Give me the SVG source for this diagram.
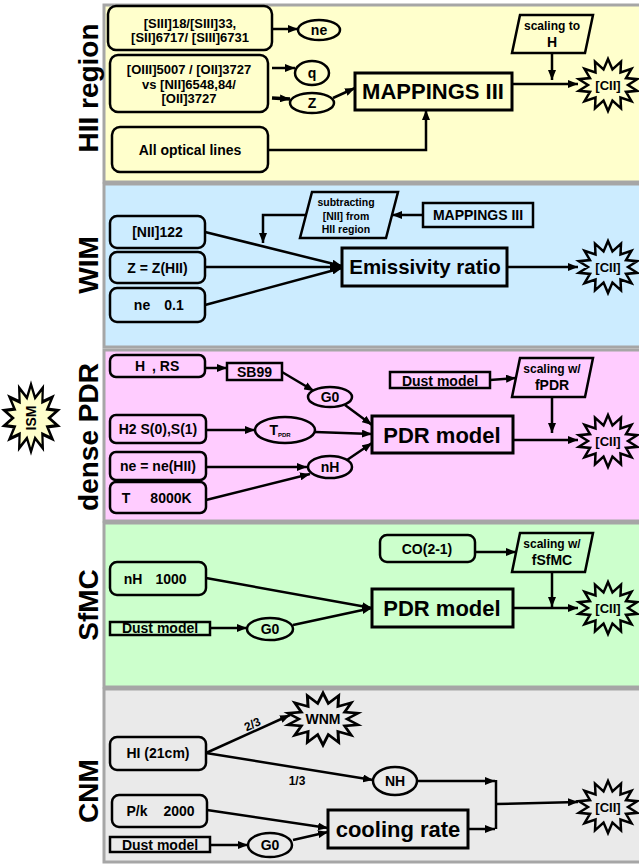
<svg xmlns="http://www.w3.org/2000/svg" xmlns:xlink="http://www.w3.org/1999/xlink" width="639" height="865" viewBox="0 0 639 865">
<style>
text{font-family:"Liberation Sans",Arial,sans-serif;font-weight:bold;fill:#000}
.panel{stroke:#A6A6A6;stroke-width:3}
.nd{stroke:#000;stroke-width:2.5}
.big{stroke:#000;stroke-width:3}
.c{stroke:#000;stroke-width:2.5;fill:none;marker-end:url(#ah)}
.cn{stroke:#000;stroke-width:2.5;fill:none}
.star{stroke:#000;stroke-width:2.5;fill:none}
.lab{font-size:28px;text-anchor:middle}
.t13{font-size:13px;text-anchor:middle}
.t14{font-size:14px;text-anchor:middle}
.t11{font-size:10.5px;text-anchor:middle}
.t12{font-size:12px;text-anchor:middle}
.t22{font-size:22px;text-anchor:middle}
</style>
<defs>
<marker id="ah" markerUnits="userSpaceOnUse" markerWidth="10" markerHeight="8" refX="10" refY="4" orient="auto">
<path d="M0,0 L10,4 L0,8 z" fill="#000"/>
</marker>
<polygon id="starshape" points="0,-26 4.45,-15.6 13,-23.4 12.5,-12.5 23.5,-16.2 18,-6.9 29.2,-5.8 20,0 29.2,5.8 18,6.9 23.5,16.2 12.5,12.5 13,23.4 4.45,15.6 0,26 -4.45,15.6 -13,23.4 -12.5,12.5 -23.5,16.2 -18,6.9 -29.2,5.8 -20,0 -29.2,-5.8 -18,-6.9 -23.5,-16.2 -12.5,-12.5 -13,-23.4 -4.45,-15.6"/>
</defs>
<rect width="639" height="865" fill="#fff"/>
<g id="panels">
<rect class="panel" x="104" y="5" width="540" height="177" fill="#FFFFCC"/>
<rect class="panel" x="104" y="184" width="540" height="163" fill="#CCECFF"/>
<rect class="panel" x="104" y="350" width="540" height="171" fill="#FFCCFF"/>
<rect class="panel" x="104" y="523" width="540" height="164" fill="#CCFFCC"/>
<rect class="panel" x="104" y="689" width="540" height="173" fill="#EAEAEA"/>
</g>
<g id="labels">
<text class="lab" transform="translate(98,88) rotate(-90)">HII region</text>
<text class="lab" transform="translate(98,265) rotate(-90)">WIM</text>
<text class="lab" transform="translate(98,437) rotate(-90)">dense PDR</text>
<text class="lab" transform="translate(98,605) rotate(-90)">SfMC</text>
<text class="lab" transform="translate(98,791) rotate(-90)">CNM</text>
</g>
<g id="ism">
<use xlink:href="#starshape" transform="translate(31,418) scale(0.91,1.29)" fill="#FFFFCC" stroke="#000" stroke-width="2.5" vector-effect="non-scaling-stroke"/>
<text class="t14" transform="translate(36,418) rotate(-90)">ISM</text>
</g>
<g id="connectors">
<path class="c" d="M272,29 L298,29"/>
<path class="c" d="M272,68 L295,68"/>
<path class="c" d="M272,98 L290,99" style="stroke-width:3.5"/>
<path class="c" d="M333,98 L355,88"/>
<path class="c" d="M268,150 L426,150 L426,110"/>
<path class="c" d="M552,53 L552,80"/>
<path class="c" d="M512,84 L578,84"/>
<path class="c" d="M423,215 L392,215"/>
<path class="c" d="M306,215 L263,215 L263,243"/>
<path class="c" d="M205,232 L342,266"/>
<path class="c" d="M205,267 L340,267"/>
<path class="c" d="M205,305 L342,268"/>
<path class="c" d="M507,267 L578,267"/>
<path class="c" d="M205,368 L227,368"/>
<path class="c" d="M282,372 L314,391"/>
<path class="c" d="M206,430 L255,430"/>
<path class="c" d="M206,467 L307,467"/>
<path class="c" d="M206,500 L310,474"/>
<path class="c" d="M345,405 L372,425"/>
<path class="c" d="M315,432 L372,434"/>
<path class="c" d="M347,460 L372,443"/>
<path class="c" d="M490,380 L516,378"/>
<path class="c" d="M552,397 L552,433"/>
<path class="c" d="M513,440 L578,440"/>
<path class="c" d="M206,578 L372,608"/>
<path class="c" d="M293,625 L372,608"/>
<path class="c" d="M210,628 L247,628"/>
<path class="c" d="M475,552 L516,552"/>
<path class="c" d="M552,572 L552,607"/>
<path class="c" d="M513,608 L578,608"/>
<path class="c" d="M206,753 L290,715"/>
<path class="c" d="M206,753 L373,780"/>
<path class="c" d="M207,810 L328,828"/>
<path class="c" d="M293,840 L328,832"/>
<path class="c" d="M210,845 L248,845"/>
<path class="c" d="M417,781 L495,781"/>
<path class="c" d="M468,829 L495,829"/>
<path class="cn" d="M496,780 L496,829"/>
<path class="c" d="M496,804 L578,802"/>
<text class="t12" transform="translate(254,728) rotate(-24)">2/3</text>
<text class="t12" x="297" y="785">1/3</text>
</g>
<g id="n-hii-ratio1"><rect class="nd" x="108" y="6" width="164" height="44" rx="8" fill="#FFFFCC"/>
<text class="t13" x="190" y="27.5">[SIII]18/[SIII]33,</text><text class="t13" x="190" y="42">[SII]6717/ [SIII]6731</text></g>
<g id="n-ne"><ellipse class="nd" cx="319" cy="30" rx="21" ry="10" fill="#FFFFCC"/><text class="t14" x="319" y="35">ne</text></g>
<g id="n-hii-ratio2"><rect class="nd" x="110" y="55" width="158" height="57" rx="8" fill="#FFFFCC"/>
<text class="t13" x="189" y="74">[OIII]5007 / [OII]3727</text><text class="t13" x="189" y="88.5">vs [NII]6548,84/</text><text class="t13" x="189" y="103">[OII]3727</text></g>
<g id="n-q"><ellipse class="nd" cx="312" cy="73" rx="17" ry="12" fill="#FFFFCC"/><text class="t14" x="312" y="78">q</text></g>
<g id="n-z"><ellipse class="nd" cx="312" cy="103" rx="22" ry="10" fill="#FFFFCC"/><text class="t14" x="312" y="108">Z</text></g>
<g id="n-optical"><rect class="nd" x="112" y="127" width="156" height="45" rx="8" fill="#FFFFCC"/><text class="t14" x="190" y="155">All optical lines</text></g>
<g id="n-mappings1"><rect class="big" x="355" y="73" width="157" height="37" fill="#FFFFCC"/><text class="t22" x="433" y="99">MAPPINGS III</text></g>
<g id="n-scaleH"><polygon class="nd" points="520,15 593,15 585,53 512,53" fill="#FFFFCC"/><text class="t12" x="552" y="30">scaling to</text><text class="t14" x="552" y="47">H</text></g>
<g id="n-cii1"><use xlink:href="#starshape" class="star" x="608" y="85"/><text class="t13" x="608" y="90">[CII]</text></g>

<g id="n-nii122"><rect class="nd" x="110" y="216" width="95" height="32" rx="7" fill="#CCECFF"/><text class="t14" x="157.5" y="237">[NII]122</text></g>
<g id="n-zwim"><rect class="nd" x="110" y="252" width="95" height="31" rx="7" fill="#CCECFF"/><text class="t14" x="157.5" y="273">Z = Z(HII)</text></g>
<g id="n-newim"><rect class="nd" x="110" y="288" width="95" height="34" rx="7" fill="#CCECFF"/><text class="t14" x="142" y="310">ne</text><text class="t14" x="174" y="310">0.1</text></g>
<g id="n-subtract"><polygon class="nd" points="312,192 398,192 386,238 300,238" fill="#CCECFF"/>
<text class="t11" x="346" y="206">subtracting</text><text class="t11" x="346" y="220">[NII] from</text><text class="t11" x="346" y="233">HII region</text></g>
<g id="n-mappings2"><rect class="nd" x="423" y="203" width="110" height="24" fill="#CCECFF"/><text class="t14" x="478" y="220">MAPPINGS III</text></g>
<g id="n-emis"><rect class="big" x="342" y="248" width="165" height="38" fill="#CCECFF"/><text x="425" y="274" style="font-size:20.5px;text-anchor:middle">Emissivity ratio</text></g>
<g id="n-cii2"><use xlink:href="#starshape" class="star" x="608" y="267"/><text class="t13" x="608" y="272">[CII]</text></g>

<g id="n-halpha"><rect class="nd" x="110" y="355" width="95" height="22" rx="6" fill="#FFCCFF"/><text class="t14" x="135" y="371" style="text-anchor:start">H</text><text class="t14" x="152" y="371" style="text-anchor:start">, RS</text></g>
<g id="n-sb99"><rect class="nd" x="227" y="363" width="55" height="17" fill="#FFCCFF"/><text class="t14" x="254.5" y="377">SB99</text></g>
<g id="n-g0pdr"><ellipse class="nd" cx="330" cy="397" rx="22" ry="10" fill="#FFCCFF"/><text class="t14" x="330" y="402">G0</text></g>
<g id="n-h2"><rect class="nd" x="110" y="415" width="96" height="28" rx="6" fill="#FFCCFF"/><text class="t14" x="158" y="434">H2 S(0),S(1)</text></g>
<g id="n-tpdr"><ellipse class="nd" cx="285" cy="430" rx="30" ry="13" fill="#FFCCFF"/><text x="280" y="435" style="font-size:14px;text-anchor:middle">T<tspan style="font-size:6px" dy="2">PDR</tspan></text></g>
<g id="n-nepdr"><rect class="nd" x="110" y="452" width="96" height="28" rx="6" fill="#FFCCFF"/><text class="t14" x="158" y="471">ne = ne(HII)</text></g>
<g id="n-t8000"><rect class="nd" x="110" y="482" width="96" height="31" rx="6" fill="#FFCCFF"/><text class="t14" x="126" y="503">T</text><text class="t14" x="171" y="503">8000K</text></g>
<g id="n-nhpdr"><ellipse class="nd" cx="330" cy="467" rx="22" ry="11" fill="#FFCCFF"/><text class="t14" x="330" y="472">nH</text></g>
<g id="n-pdrmodel1"><rect class="big" x="372" y="416" width="141" height="37" fill="#FFCCFF"/><text class="t22" x="442" y="443">PDR model</text></g>
<g id="n-dust1"><rect class="nd" x="390" y="372" width="100" height="16" fill="#FFCCFF"/><text class="t14" x="440" y="386">Dust model</text></g>
<g id="n-scalefpdr"><polygon class="nd" points="520,358 593,358 585,397 512,397" fill="#FFCCFF"/><text class="t12" x="552" y="373">scaling w/</text><text class="t14" x="552" y="390">fPDR</text></g>
<g id="n-cii3"><use xlink:href="#starshape" class="star" x="608" y="441"/><text class="t13" x="608" y="446">[CII]</text></g>

<g id="n-nh1000"><rect class="nd" x="110" y="562" width="96" height="33" rx="7" fill="#CCFFCC"/><text class="t14" x="133" y="584">nH</text><text class="t14" x="171" y="584">1000</text></g>
<g id="n-dust2"><rect class="nd" x="110" y="622" width="100" height="13" fill="#CCFFCC"/><text class="t14" x="160" y="633">Dust model</text></g>
<g id="n-g0sfmc"><ellipse class="nd" cx="270" cy="629" rx="23" ry="11" fill="#CCFFCC"/><text class="t14" x="270" y="634">G0</text></g>
<g id="n-pdrmodel2"><rect class="big" x="372" y="589" width="141" height="38" fill="#CCFFCC"/><text class="t22" x="442" y="616">PDR model</text></g>
<g id="n-co"><rect class="nd" x="380" y="535" width="95" height="27" rx="7" fill="#CCFFCC"/><text class="t14" x="427" y="554">CO(2-1)</text></g>
<g id="n-scalefsfmc"><polygon class="nd" points="520,533 593,533 585,572 512,572" fill="#CCFFCC"/><text class="t12" x="552" y="548">scaling w/</text><text class="t14" x="552" y="565">fSfMC</text></g>
<g id="n-cii4"><use xlink:href="#starshape" class="star" x="608" y="608"/><text class="t13" x="608" y="613">[CII]</text></g>

<g id="n-hi"><rect class="nd" x="110" y="737" width="96" height="33" rx="7" fill="#EAEAEA"/><text class="t14" x="158" y="758">HI (21cm)</text></g>
<g id="n-wnm"><use xlink:href="#starshape" transform="translate(323,719) scale(1.2,1)" fill="none" stroke="#000" stroke-width="2.5" vector-effect="non-scaling-stroke"/><text class="t14" x="323" y="724">WNM</text></g>
<g id="n-nhcol"><ellipse class="nd" cx="395" cy="781" rx="22" ry="14" fill="#EAEAEA"/><text class="t14" x="395" y="786">NH</text></g>
<g id="n-pk"><rect class="nd" x="112" y="795" width="95" height="32" rx="7" fill="#EAEAEA"/><text class="t14" x="137" y="816">P/k</text><text class="t14" x="179" y="816">2000</text></g>
<g id="n-dust3"><rect class="nd" x="110" y="837" width="100" height="15" fill="#EAEAEA"/><text class="t14" x="160" y="850">Dust model</text></g>
<g id="n-g0cnm"><ellipse class="nd" cx="270" cy="845" rx="22" ry="12" fill="#EAEAEA"/><text class="t14" x="270" y="850">G0</text></g>
<g id="n-cooling"><rect class="big" x="328" y="810" width="140" height="38" fill="#EAEAEA"/><text class="t22" x="398" y="837">cooling rate</text></g>
<g id="n-cii5"><use xlink:href="#starshape" class="star" x="608" y="807"/><text class="t13" x="608" y="812">[CII]</text></g>
</svg>
